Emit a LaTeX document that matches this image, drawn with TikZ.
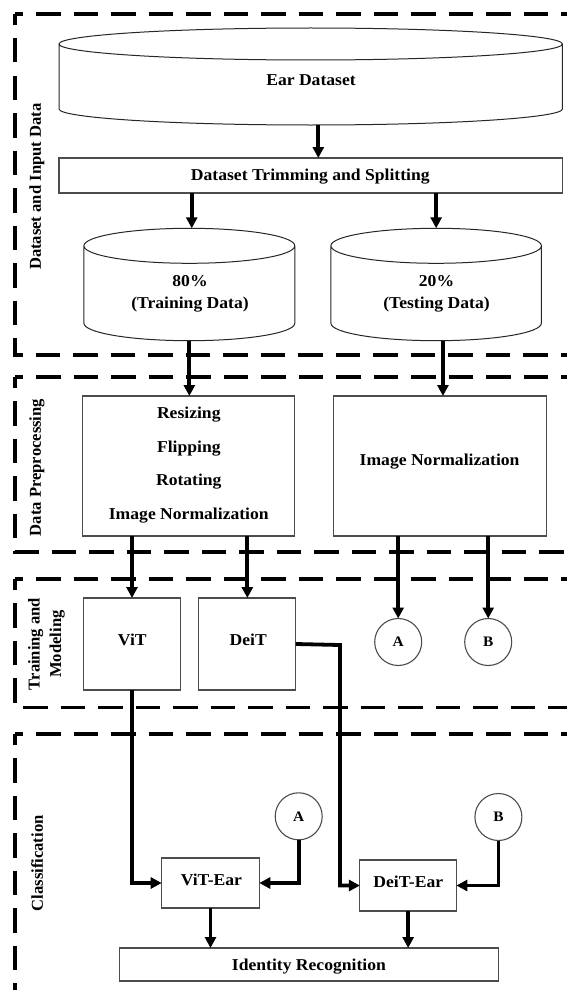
\documentclass[tikz,border=0pt]{standalone}
\usepackage{fontspec}
\setmainfont{Liberation Serif}[FakeStretch=1.06]
\newfontfamily\sidefont{Liberation Serif}
\usetikzlibrary{arrows.meta,calc}

\tikzset{
  frame/.style={line width=3.3pt, dash pattern=on 24.5pt off 13pt},
  boxline/.style={draw=black!70, line width=1.1pt},
  drumline/.style={draw=black!85, line width=1pt},
  block/.style={boxline, rectangle, inner sep=0pt, outer sep=0pt},
  hull/.style={rectangle, inner sep=0pt, outer sep=0pt},
  caption/.style={font=\fontsize{16.6}{21.5}\selectfont\bfseries, inner sep=0pt, align=center},
  side label/.style={font=\sidefont\fontsize{16.6}{21.5}\selectfont\bfseries, inner sep=0pt, rotate=90, align=center},
  marker/.style={circle, draw=black!70, line width=1.1pt, minimum size=47pt, inner sep=0pt, outer sep=0pt,
                 font=\fontsize{14.5}{16}\selectfont\bfseries},
  flow/.style={line width=3.8pt, -{Triangle[width=11pt,length=11pt]}},
}

% drum (database cylinder) drawn inside the hull node #1, ellipse y radius #2 (pt)
\newcommand\drum[2]{%
  \draw[drumline] let \p1=(#1.north west), \p2=(#1.south east), \n1={(\x2-\x1)/2} in
    (\x1,{\y1-#2pt}) -- (\x1,{\y2+#2pt})
    arc[start angle=180, end angle=360, x radius=\n1, y radius=#2pt]
    -- (\x2,{\y1-#2pt})
    ({\x1+\n1},{\y1-#2pt}) ellipse[x radius=\n1, y radius=#2pt];
}

\begin{document}
\begin{tikzpicture}[x=1pt, y=1pt]
\useasboundingbox (0,0) rectangle (567,-990);
\clip (0,0) rectangle (567,-990);

% stage frames
\draw[frame, dash phase=16.5pt] (15,-14) -- (600,-14);
\draw[frame, dash phase=13.5pt] (15,-14) -- (15,-355) -- (600,-355);
\draw[frame, dash phase=16.5pt] (15,-377) -- (600,-377);
\draw[frame, dash phase=13.5pt] (15,-377) -- (15,-552) -- (600,-552);
\draw[frame, dash phase=16.5pt] (15,-579) -- (600,-579);
\draw[frame, dash phase=13.5pt] (15,-579) -- (15,-707.5) -- (600,-707.5);
\draw[frame, dash phase=16.5pt] (15,-734) -- (600,-734);
\draw[frame, dash phase=13.5pt] (15,-734) -- (15,-1000);

% stage labels
\node[side label] (lab1) at (37,-186.7) {Dataset and Input Data};
\node[side label] (lab2) at (37,-467.5) {Data Preprocessing};
\node[side label] (lab3) at (46.5,-644) {Training and\\Modeling};
\node[side label] (lab4) at (37,-863.3) {Classification};

% dataset and input data
\node[hull, minimum width=503.4pt, minimum height=97pt] (ear) at (310.7,-76.5) {};
\drum{ear}{16}
\node[caption] (eart) at (311,-80) {Ear Dataset};

\node[block, minimum width=503.4pt, minimum height=35pt] (trim) at (310.7,-175.5) {};
\node[caption] (trimt) at (310.3,-176.5) {Dataset Trimming and Splitting};

\node[hull, minimum width=210.9pt, minimum height=112.4pt] (tr) at (189.35,-284.5) {};
\drum{tr}{17.5}
\node[caption] (trt) at (190,-294) {80\%\\(Training Data)};

\node[hull, minimum width=210.5pt, minimum height=112.4pt] (ts) at (436.15,-284.5) {};
\drum{ts}{17.5}
\node[caption] (tst) at (436.5,-294) {20\%\\(Testing Data)};

% data preprocessing
\node[block, minimum width=212pt, minimum height=140pt] (prep) at (188.8,-466) {};
\node[caption, font=\fontsize{16.6}{33.8}\selectfont\bfseries] (prept) at (188.8,-465)
  {Resizing\\Flipping\\Rotating\\Image Normalization};

\node[block, minimum width=213pt, minimum height=140pt] (norm) at (439.6,-466) {};
\node[caption] (normt) at (439.6,-461.5) {Image Normalization};

% training and modeling
\node[block, minimum width=97.6pt, minimum height=92pt] (vit) at (132,-644) {};
\node[caption] (vitt) at (132.3,-639.5) {ViT};
\node[block, minimum width=96.9pt, minimum height=92pt] (deit) at (247.35,-644) {};
\node[caption] (deitt) at (248.3,-639.5) {DeiT};

\node[marker] (ca) at (398.2,-642) {A};
\node[marker] (cb) at (488.2,-642) {B};

% classification
\node[marker] (ca2) at (298.7,-816.3) {A};
\node[marker] (cb2) at (498.4,-817) {B};

\node[block, minimum width=97.6pt, minimum height=50pt] (vitear) at (210.5,-883) {};
\node[caption] (viteart) at (211.4,-879.5) {ViT-Ear};
\node[block, minimum width=96.5pt, minimum height=51pt] (deitear) at (408.15,-885.5) {};
\node[caption] (deiteart) at (408.3,-882) {DeiT-Ear};

\node[block, minimum width=379.1pt, minimum height=33pt] (ident) at (308.85,-964.5) {};
\node[caption] (identt) at (308.9,-966.5) {Identity Recognition};

\coordinate (deitbend) at (340,-645);

% connectors
\draw[flow] ([xshift=7.6pt]ear.south) -- ([xshift=7.6pt]ear.south |- trim.north);
\draw[flow] ([xshift=2.4pt]tr.north |- trim.south) -- ([xshift=2.4pt]tr.north);
\draw[flow] (ts.north |- trim.south) -- (ts.north);
\draw[flow] (tr.south) -- (tr.south |- prep.north);
\draw[flow] ([xshift=6.8pt]ts.south) -- ([xshift=6.8pt]ts.south |- norm.north);
\draw[flow] (vit.north |- prep.south) -- (vit.north);
\draw[flow] (deit.north |- prep.south) -- (deit.north);
\draw[flow] (ca.north |- norm.south) -- (ca.north);
\draw[flow] (cb.north |- norm.south) -- (cb.north);
\draw[flow] (vit.south) |- (vitear.west);
\draw[flow] (ca2.south) |- (vitear.east);
\draw[flow] (deit.east) -- (deitbend) |- (deitear.west);
\draw[flow] (cb2.south) |- (deitear.east);
\draw[flow] (vitear.south) -- (vitear.south |- ident.north);
\draw[flow] (deitear.south) -- (deitear.south |- ident.north);
\end{tikzpicture}
\end{document}
